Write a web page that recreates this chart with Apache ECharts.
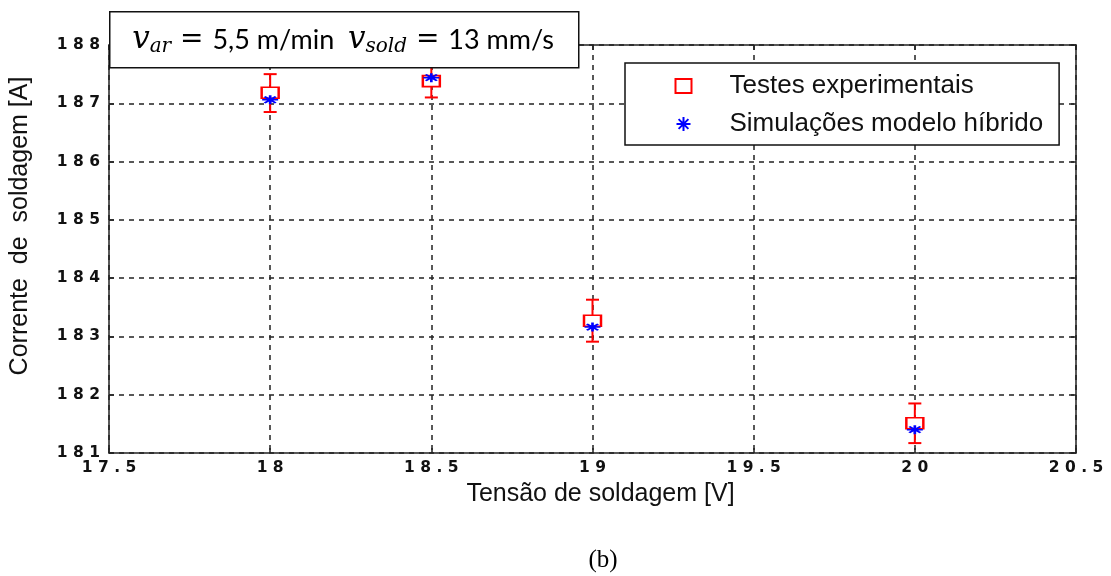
<!DOCTYPE html>
<html>
<head>
<meta charset="utf-8">
<script src="https://cdn.jsdelivr.net/npm/echarts@6/dist/echarts.min.js"></script>
<style>html,body{margin:0;padding:0;background:#fff}#c{width:1111px;height:576px}</style>
</head>
<body>
<div id="c"></div>
<script>
// ---- data ----
const voltage = [18, 18.5, 19, 20];
const expCurrent = [187.18, 187.38, 183.27, 181.51];
const expErrLow = [186.85, 187.10, 182.91, 181.17];
const expErrHigh = [187.50, 187.66, 183.63, 181.85];
const simCurrent = [187.06, 187.44, 183.16, 181.40];
const seriesNames = ['Testes experimentais', 'Simulações modelo híbrido'];
const xTitle = 'Tensão de soldagem [V]';
const yTitle = 'Corrente  de  soldagem [A]';
const xRange = [17.5, 20.5, 0.5];
const yRange = [181, 188, 1];
const boxLabel = ['5,5 m/min', '13 mm/s'];
const caption = '(b)';

const chart = echarts.init(document.getElementById('c'), null, {renderer: 'canvas'});
const spaced = v => String(v).split('').join(' ');
const tickFont = {fontFamily: 'DejaVu Sans', fontWeight: 'bold', fontSize: 15.5, color: '#111'};
const asterisk = 'path://M0,-10L0,10M-10,0L10,0M-7,-7L7,7M-7,7L7,-7';

const axisCommon = {
  axisLine: {show: true, lineStyle: {color: '#222', width: 1.5}},
  axisTick: {show: true, inside: true, length: 5, lineStyle: {color: '#222', width: 1.5}}
};

const option = {
  animation: false,
  backgroundColor: '#fff',
  grid: {left: 109, right: 35, top: 45, bottom: 123, containLabel: false},
  xAxis: [
    Object.assign({
      type: 'value', position: 'bottom', min: xRange[0], max: xRange[1], interval: xRange[2],
      axisLabel: Object.assign({margin: 7, formatter: spaced}, tickFont),
      splitLine: {show: true, lineStyle: {color: '#222', width: 1.5, type: [5, 5]}},
      name: xTitle, nameLocation: 'middle', nameGap: 29,
      nameTextStyle: {fontFamily: 'Liberation Sans', fontSize: 25, color: '#111', padding: [0, 0, 0, 16]}
    }, axisCommon),
    Object.assign({
      type: 'value', position: 'top', min: xRange[0], max: xRange[1], interval: xRange[2],
      axisLabel: {show: false}, splitLine: {show: false}
    }, axisCommon)
  ],
  yAxis: [
    Object.assign({
      type: 'value', position: 'left', min: yRange[0], max: yRange[1], interval: yRange[2],
      axisLabel: Object.assign({margin: 9, formatter: spaced}, tickFont),
      splitLine: {show: true, lineStyle: {color: '#222', width: 1.5, type: [5, 5]}}
    }, axisCommon),
    Object.assign({
      type: 'value', position: 'right', min: yRange[0], max: yRange[1], interval: yRange[2],
      axisLabel: {show: false}, splitLine: {show: false}
    }, axisCommon)
  ],
  legend: {
    left: 625, top: 63, orient: 'vertical',
    backgroundColor: '#fff', borderColor: '#111', borderWidth: 1.5,
    padding: [10, 16, 8, 49], itemWidth: 16, itemHeight: 14, itemGap: 12,
    textStyle: {fontFamily: 'Liberation Sans', fontSize: 26, color: '#111', padding: [0, 0, 0, 33]},
    data: [
      {name: seriesNames[0], icon: 'emptyRect', itemStyle: {color: '#f00', borderColor: '#f00', borderWidth: 2}},
      {name: seriesNames[1], icon: asterisk, itemStyle: {color: 'none', borderColor: '#00f', borderWidth: 2}}
    ]
  },
  series: [
    {
      type: 'custom', name: 'err', silent: true, z: 3,
      data: voltage.map((x, i) => [x, expErrLow[i], expErrHigh[i]]),
      renderItem: (params, api) => {
        const lo = api.coord([api.value(0), api.value(1)]);
        const hi = api.coord([api.value(0), api.value(2)]);
        const cw = 6.5;
        const st = {stroke: '#f00', lineWidth: 2, fill: 'none'};
        return {type: 'group', children: [
          {type: 'line', shape: {x1: lo[0], y1: lo[1], x2: hi[0], y2: hi[1]}, style: st},
          {type: 'line', shape: {x1: lo[0] - cw, y1: lo[1], x2: lo[0] + cw, y2: lo[1]}, style: st},
          {type: 'line', shape: {x1: hi[0] - cw, y1: hi[1], x2: hi[0] + cw, y2: hi[1]}, style: st}
        ]};
      }
    },
    {
      type: 'scatter', name: seriesNames[0], z: 4,
      symbol: 'emptyRect', symbolSize: [17, 11],
      itemStyle: {color: '#f00', borderColor: '#f00', borderWidth: 2, opacity: 1},
      data: voltage.map((x, i) => [x, expCurrent[i]])
    },
    {
      type: 'scatter', name: seriesNames[1], z: 5,
      symbol: asterisk, symbolSize: [16, 9],
      itemStyle: {color: 'none', borderColor: '#00f', borderWidth: 2, opacity: 1},
      data: voltage.map((x, i) => [x, simCurrent[i]])
    }
  ],
  graphic: [
    {
      type: 'rect', left: 109, top: 11, z: 100,
      shape: {width: 469, height: 56},
      style: {fill: '#fff', stroke: '#111', lineWidth: 1.5}
    },
    {
      type: 'text', x: 343, y: 40, z: 101,
      style: {
        text: '{v|v}{s|ar}{e| = }{n|' + boxLabel[0] + '  }{v|v}{s|sold}{e| = }{n|' + boxLabel[1] + '}',
        align: 'center', verticalAlign: 'middle',
        rich: {
          v: {fontFamily: 'DejaVu Serif', fontStyle: 'italic', fontSize: 31, color: '#000', lineHeight: 40, verticalAlign: 'middle'},
          s: {fontFamily: 'DejaVu Serif', fontStyle: 'italic', fontSize: 20, color: '#000', lineHeight: 40, padding: [14, 0, 0, 0]},
          e: {fontFamily: 'DejaVu Serif', fontSize: 28, color: '#000', lineHeight: 40, verticalAlign: 'middle'},
          n: {fontFamily: 'Lato', fontSize: 27, color: '#000', lineHeight: 40, verticalAlign: 'middle'}
        }
      }
    },
    {
      type: 'text', x: 20, y: 226, rotation: Math.PI / 2, z: 50,
      style: {text: yTitle, fontFamily: 'Liberation Sans', fontSize: 25, fill: '#111', align: 'center', verticalAlign: 'middle'}
    },
    {
      type: 'text', x: 603, y: 560, z: 50,
      style: {text: caption, fontFamily: 'Liberation Serif', fontSize: 25, fill: '#000', align: 'center', verticalAlign: 'middle'}
    }
  ]
};
chart.setOption(option);
</script>
</body>
</html>
